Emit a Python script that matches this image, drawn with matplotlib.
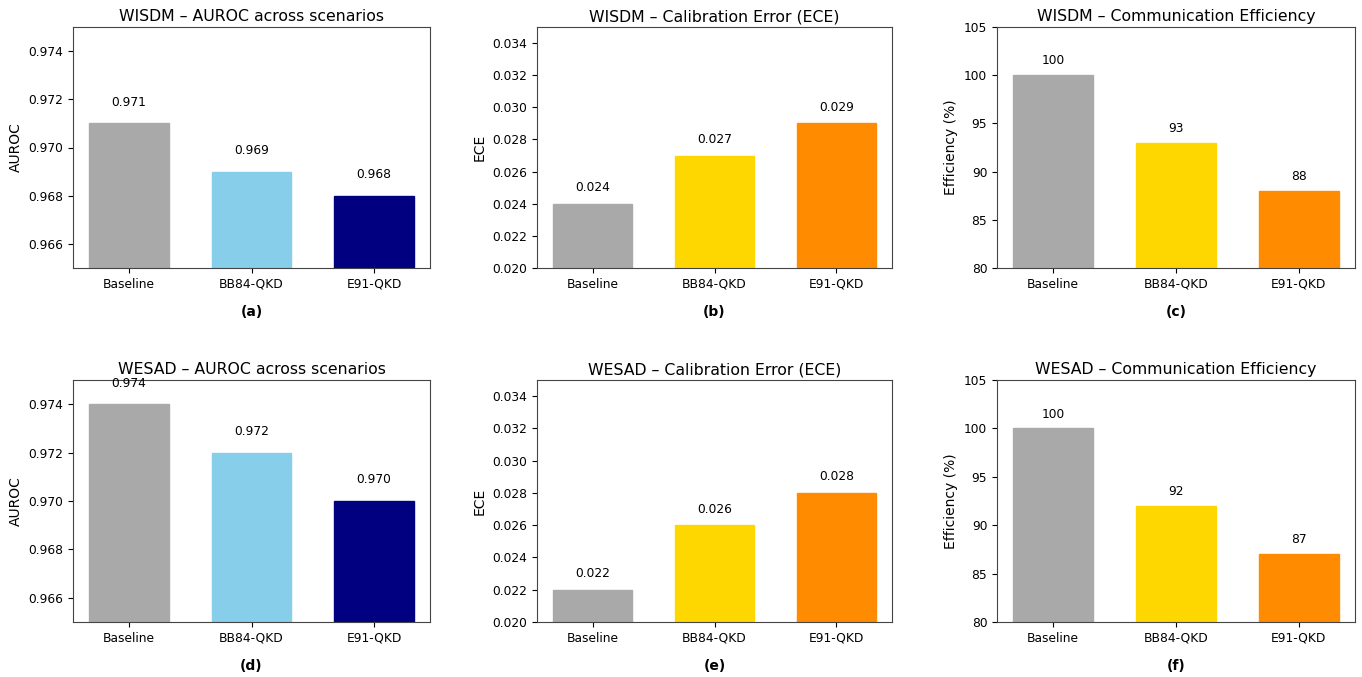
import numpy as np
import matplotlib.pyplot as plt

# scenarios and values
scenarios = ['Baseline', 'BB84-QKD', 'E91-QKD']

wisdm_auroc = [0.971, 0.969, 0.968]
wisdm_ece = [0.024, 0.027, 0.029]
wisdm_eff = [100, 93, 88]

wesad_auroc = [0.974, 0.972, 0.970]
wesad_ece = [0.022, 0.026, 0.028]
wesad_eff = [100, 92, 87]

auroc_ticks = [0.966, 0.968, 0.970, 0.972, 0.974]
ece_ticks = [0.020, 0.022, 0.024, 0.026, 0.028, 0.030, 0.032, 0.034]
eff_ticks = [80, 85, 90, 95, 100, 105]

auroc_colors = ['darkgray', 'skyblue', 'navy']
other_colors = ['darkgray', 'gold', 'darkorange']

W, H = 1362, 677
fig = plt.figure(figsize=(W / 100, H / 100), dpi=100)


def make_ax(left, right, top, bottom):
    # pixel box -> figure fraction
    return fig.add_axes([left / W, 1 - bottom / H, (right - left) / W, (bottom - top) / H])


cols_px = [(73, 430), (537, 892), (997, 1355)]
rows_px = [(27, 268), (380, 622)]

panels = [
    ('WISDM \u2013 AUROC across scenarios', wisdm_auroc, auroc_colors, 'AUROC', (0.965, 0.975), auroc_ticks, '{:.3f}', 0.0006, '(a)'),
    ('WISDM \u2013 Calibration Error (ECE)', wisdm_ece, other_colors, 'ECE', (0.020, 0.035), ece_ticks, '{:.3f}', 0.0006, '(b)'),
    ('WISDM \u2013 Communication Efficiency', wisdm_eff, other_colors, 'Efficiency (%)', (80, 105), eff_ticks, '{:d}', 0.8, '(c)'),
    ('WESAD \u2013 AUROC across scenarios', wesad_auroc, auroc_colors, 'AUROC', (0.965, 0.975), auroc_ticks, '{:.3f}', 0.0006, '(d)'),
    ('WESAD \u2013 Calibration Error (ECE)', wesad_ece, other_colors, 'ECE', (0.020, 0.035), ece_ticks, '{:.3f}', 0.0006, '(e)'),
    ('WESAD \u2013 Communication Efficiency', wesad_eff, other_colors, 'Efficiency (%)', (80, 105), eff_ticks, '{:d}', 0.8, '(f)'),
]

x = np.arange(len(scenarios))
for i, (title, vals, cols, ylab, ylim, ticks, fmt, off, tag) in enumerate(panels):
    top, bottom = rows_px[i // 3]
    left, right = cols_px[i % 3]
    ax = make_ax(left, right, top, bottom)
    ax.bar(x, vals, width=0.65, color=cols, edgecolor=cols, linewidth=1.0)
    ax.set_ylim(ylim)
    ax.set_yticks(ticks)
    if ylab != 'Efficiency (%)':
        ax.yaxis.set_major_formatter(plt.FormatStrFormatter('%.3f'))
    ax.set_xticks(x)
    ax.set_xticklabels(scenarios)
    ax.tick_params(labelsize=8.8)
    ax.set_ylabel(ylab, fontsize=10)
    ax.set_title(title, fontsize=11.3, pad=4)
    for xi, v in zip(x, vals):
        ax.text(xi, v + off, fmt.format(v), ha='center', va='bottom', fontsize=8.8)
    for sp in ax.spines.values():
        sp.set_color('#444444')
    ax.text(0.5, -0.183, tag, transform=ax.transAxes, ha='center', va='center',
            fontsize=10, fontweight='bold')

plt.savefig('out.png', dpi=100)
